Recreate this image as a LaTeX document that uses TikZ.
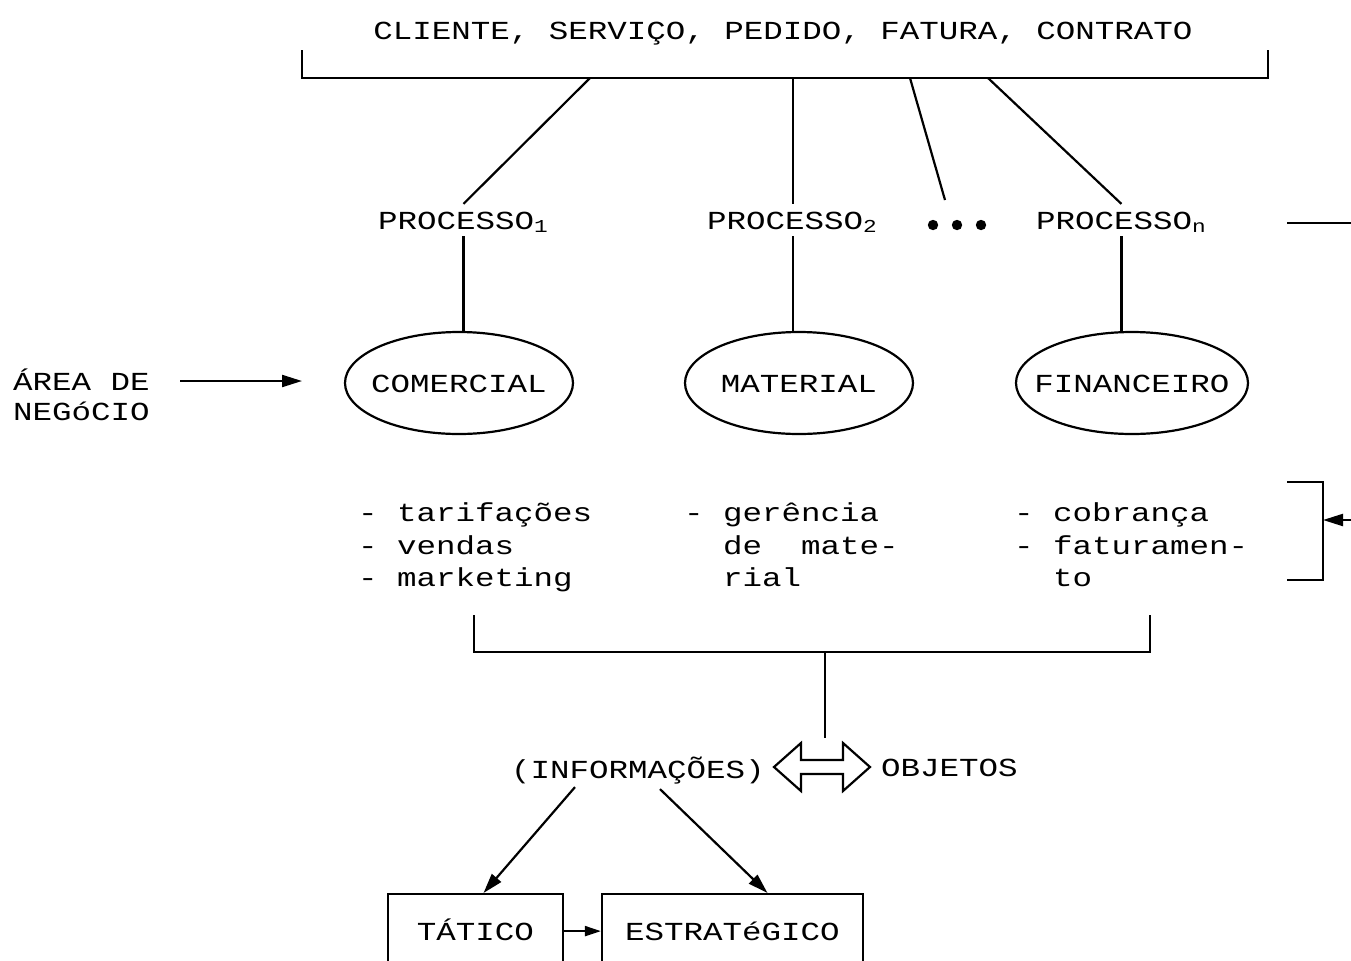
\documentclass[tikz,border=0pt]{standalone}
\usepackage{fontspec}
\newfontfamily\pf[FakeStretch=1.25]{Liberation Mono}
\usetikzlibrary{shapes.geometric,arrows.meta,calc}
\begin{document}
\begin{tikzpicture}[x=0.5pt,y=-0.5pt, line width=1.1pt,
  txt/.style={font={\pf\fontsize{13}{16}\selectfont}, text height=9pt, text depth=0pt, inner sep=3pt},
  ell/.style={txt, draw, ellipse, minimum width=114pt, minimum height=51pt, inner sep=0pt},
  boxnode/.style={txt, draw, anchor=north, text height=21pt, text depth=12pt, inner ysep=2pt, inner xsep=0pt},
  tip/.style={-{Triangle[length=10pt,width=6pt]}},
  smalltip/.style={-{Triangle[length=8pt,width=5pt]}},
]
\useasboundingbox (0,0) rectangle (1351,960);
\clip (0,0) rectangle (1351,960);

% top
\node[txt] (top) at (783,30) {CLIENTE, SERVIÇO, PEDIDO, FATURA, CONTRATO};
\coordinate (tl) at (302,50);
\coordinate (bl) at (302,78);
\coordinate (br) at (1268,78);
\coordinate (tr) at (1268,50);
\draw (tl) -- (bl) -- (br) -- (tr);

% processes
\node[txt, anchor=west] (p1) at (371,220) {PROCESSO\textsubscript{1}};
\node[txt, anchor=west] (p2) at (700,220) {PROCESSO\textsubscript{2}};
\node[txt, anchor=west] (pn) at (1029,220) {PROCESSO\textsubscript{n}};
\foreach \dx in {933,957,981} \fill (\dx,225) circle[radius=2.6pt];

\coordinate (b1) at (590,78);
\coordinate (b2) at (793,78);
\coordinate (b3) at (910,78);
\coordinate (b4) at (988,78);
\coordinate (dotsend) at (945,200);
\draw (b1) -- (p1.north);
\draw (b2) -- (b2 |- p2.north);
\draw (b3) -- (dotsend);
\draw (b4) -- (pn.north);

\coordinate (r1) at (1287,223);
\coordinate (r2) at (1351,223);
\draw (r1) -- (r2);

% areas
\node[ell] (com) at (459,383) {\makebox[0pt]{COMERCIAL}};
\node[ell] (mat) at (799,383) {\makebox[0pt]{MATERIAL}};
\node[ell, minimum width=116pt] (fin) at (1132,383) {\makebox[0pt]{FINANCEIRO}};

\draw (p1.south) -- (p1.south |- com.north);
\draw (b2 |- p2.south) -- (b2 |- mat.north);
\draw (pn.south) -- (pn.south |- fin.north);

\node[txt, anchor=west] (area1) at (6,381) {ÁREA DE};
\node[txt, anchor=west] (area2) at (6,411) {NEGóCIO};
\coordinate (a0) at (180,381);
\coordinate (a1) at (302,381);
\draw[tip] (a0) -- (a1);

% lists
\node[txt, anchor=west] (c1a) at (351,512) {- tarifações};
\node[txt, anchor=west] (c1b) at (351,545) {- vendas};
\node[txt, anchor=west] (c1c) at (351,577) {- marketing};
\node[txt, anchor=west] (c2a) at (677,512) {- gerência};
\node[txt, anchor=west] (c2b) at (677,545) {\hphantom{-~}de~~mate-};
\node[txt, anchor=west] (c2c) at (677,577) {\hphantom{-~}rial};
\node[txt, anchor=west] (c3a) at (1007,512) {- cobrança};
\node[txt, anchor=west] (c3b) at (1007,545) {- faturamen-};
\node[txt, anchor=west] (c3c) at (1007,577) {\hphantom{-~}to};

% right bracket
\coordinate (rb1) at (1287,482);
\coordinate (rb2) at (1323,482);
\coordinate (rb3) at (1323,580);
\coordinate (rb4) at (1287,580);
\draw (rb1) -- (rb2) -- (rb3) -- (rb4);
\coordinate (ra0) at (1351,520);
\coordinate (ra1) at (1323,520);
\draw[tip] (ra0) -- (ra1);

% bottom bracket
\coordinate (bb1) at (474,615);
\coordinate (bb2) at (474,652);
\coordinate (bb3) at (1150,652);
\coordinate (bb4) at (1150,615);
\draw (bb1) -- (bb2) -- (bb3) -- (bb4);
\coordinate (st0) at (825,652);
\coordinate (st1) at (825,738);
\draw (st0) -- (st1);

% information / objects
\node[txt] (info) at (638,769) {(INFORMAÇÕES)};
\node[txt, anchor=west] (obj) at (874,767) {OBJETOS};
\coordinate (dc) at (822,767);
\draw[line join=miter] ($(dc)+(-48,0)$) -- ($(dc)+(-21,-24)$) -- ($(dc)+(-21,-7)$) -- ($(dc)+(21,-7)$)
  -- ($(dc)+(21,-24)$) -- ($(dc)+(48,0)$) -- ($(dc)+(21,24)$) -- ($(dc)+(21,7)$)
  -- ($(dc)+(-21,7)$) -- ($(dc)+(-21,24)$) -- cycle;

% levels
\node[boxnode, minimum width=87.5pt] (tat) at (475.5,893) {TÁTICO};
\node[boxnode, minimum width=130.5pt] (est) at (732.5,893) {ESTRATéGICO};
\draw[tip] ($(info.south)+(-63,2)$) -- ($(tat.north)+(8,0)$);
\draw[tip] ($(info.south)+(22,4)$) -- ($(est.north)+(35,0)$);
\draw[smalltip] (tat.east) -- (est.west);
\end{tikzpicture}
\end{document}
